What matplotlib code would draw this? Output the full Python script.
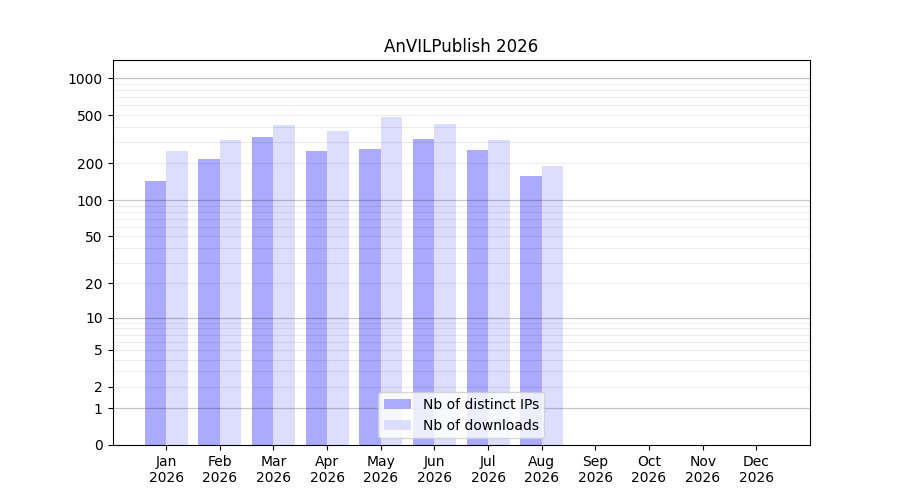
import numpy as np
import matplotlib
matplotlib.use('Agg')
import matplotlib.pyplot as plt

# monthly stats
months = ['Jan', 'Feb', 'Mar', 'Apr', 'May', 'Jun', 'Jul', 'Aug', 'Sep', 'Oct', 'Nov', 'Dec']
year = 2026
distinct_ips = [144, 218, 331, 254, 264, 319, 259, 158]
downloads = [254, 312, 415, 370, 482, 423, 312, 191]
ytick_values = [0, 1, 2, 5, 10, 20, 50, 100, 200, 500, 1000]


def tr(v):
    return np.log10(1 + np.asarray(v, dtype=float))


fig, ax = plt.subplots(figsize=(9, 5), dpi=100)

x = np.arange(1, len(months) + 1)
n = len(distinct_ips)
width = 0.4
ax.bar(x[:n] - width / 2, tr(distinct_ips), width, color='#aaaaff', label='Nb of distinct IPs')
ax.bar(x[:n] + width / 2, tr(downloads), width, color='#ddddff', label='Nb of downloads')

# gridlines on top, semi-transparent: decades darker, in-between values lighter
for dec in [1, 10, 100, 1000]:
    ax.axhline(tr(dec), color='black', alpha=0.22, lw=0.9, zorder=3)
for dec in [1, 10, 100]:
    for m in range(2, 10):
        ax.axhline(tr(dec * m), color='black', alpha=0.08, lw=0.8, zorder=3)

ax.set_yticks(tr(ytick_values))
ax.set_yticklabels([str(v) for v in ytick_values])
ax.set_xticks(x)
ax.set_xticklabels([f'{m}\n{year}' for m in months])
ax.set_xlim(0, 13)
ax.set_ylim(0, 3.15)
ax.set_title(f'AnVILPublish {year}')
leg = ax.legend(loc='lower center')
leg.set_zorder(5)

fig.savefig('out.png')
